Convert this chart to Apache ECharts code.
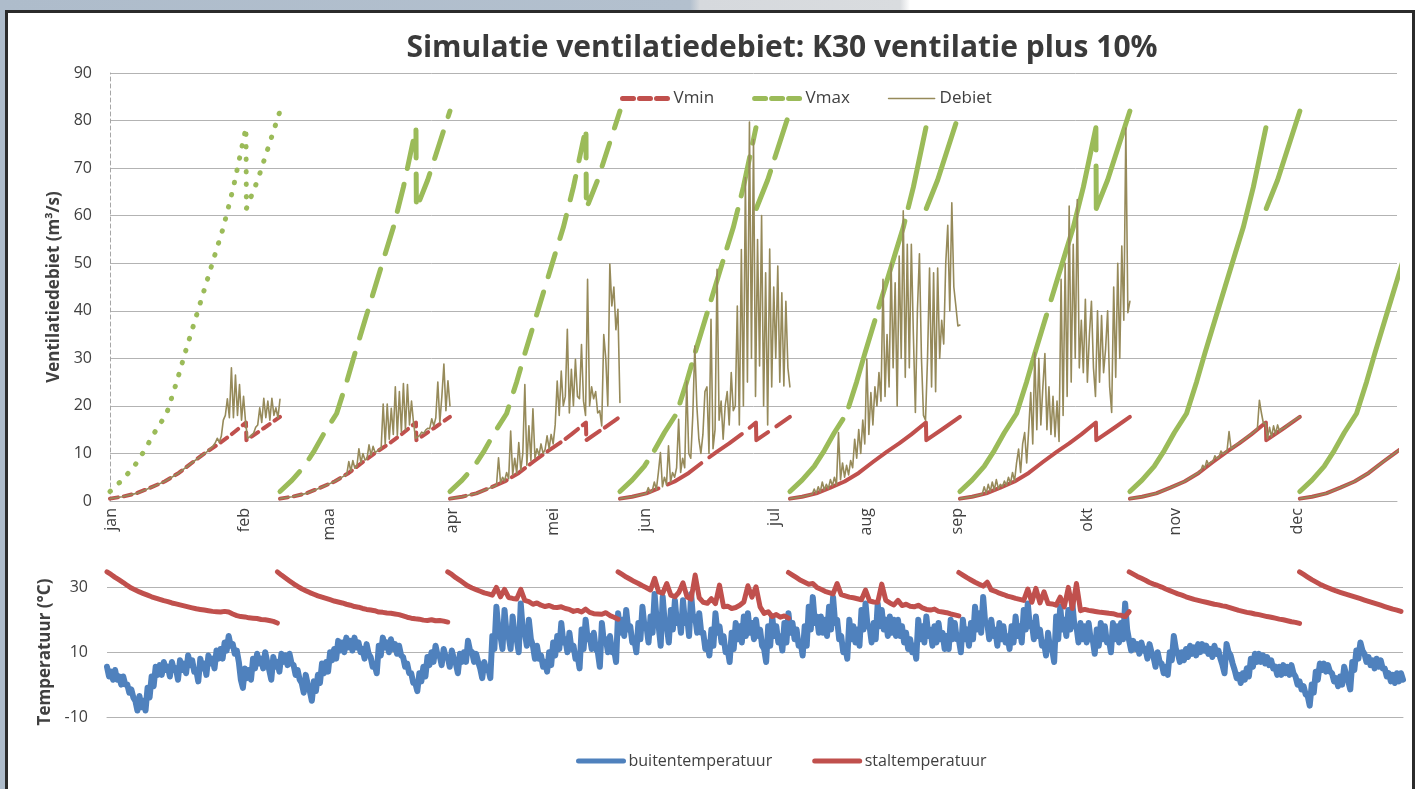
<!DOCTYPE html>
<html><head><meta charset="utf-8">
<script src="https://cdn.jsdelivr.net/npm/echarts@6/dist/echarts.min.js"></script>
<style>
html,body{margin:0;padding:0;width:1422px;height:789px;overflow:hidden;}
body{background:linear-gradient(90deg,#aebccb 0,#b3c0ce 690px,#d6d9dd 700px,#d9dcdf 900px,#ffffff 910px);}
#frame{position:absolute;left:5px;top:10px;width:1410px;height:800px;border:3px solid #2b2b2b;background:#fff;box-sizing:border-box;}
#chart{position:absolute;left:0;top:0;width:1422px;height:789px;}
</style></head><body>
<div id="frame"></div><div id="chart"></div>
<script>
// ---------- data ----------
const monthNames = ['jan','feb','maa','apr','mei','jun','jul','aug','sep','okt','nov','dec'];
const monthDays  = [0.4, 33.1, 54.1, 84.6, 109.6, 132.3, 164.1, 186.9, 209.3, 241.4, 263.2, 293.3];
const cycleStarts = [0, 42, 84, 126, 168, 210, 252, 294];

const vminDays   = [0, 3, 6.5, 10, 13.5, 17, 20.5, 24, 27, 30, 33.6, 33.7, 38, 42];
const vminValues = [0.5, 0.9, 1.6, 2.8, 4.1, 5.9, 8.2, 10.4, 12.1, 14.0, 16.5, 12.8, 15.3, 17.7];

const vmaxDays   = [0, 3, 6, 8.5, 11, 14, 16.5, 18.5, 21, 23.5, 26, 28, 30.5, 33.6, 33.7, 36.5, 42];
const vmaxValues = [2, 4.4, 7.3, 10.6, 14.4, 18.4, 25.1, 31, 38, 45, 52, 57.5, 66, 78.5, 61.5, 67.5, 82];
// cycles in which the Vmax drop is drawn as a vertical stroke
const vmaxDropShown = [true, true, true, false, false, true, false, false];

// day (within cycle) where Debiet leaves Vmin; values follow every half day from there
const debietStart = [25.5, 16.5, 11.5, 6.5, 5.5, 5.5, 17, 42];
const debietC1 = [11.6, 12.2, 13.2, 12.4, 13.6, 17, 18, 21.5, 17.5, 28, 17.5, 26.5, 18, 24.5, 17, 22, 16.5, 13.2, 13.5, 13.9, 14.3, 15.5, 16, 19.6, 16.5, 21.6, 17.5, 21, 17, 21.6, 18, 19.6, 17.5, 21.4];
const debietC2 = [5.6, 8.3, 6.3, 8.5, 6.9, 7.3, 11, 8.0, 10, 8.6, 8.9, 11.8, 9.6, 11.5, 10.2, 10.5, 10.8, 11.1, 20.4, 12, 20.4, 13, 19.5, 14, 24, 13.8, 23, 14.5, 24.7, 15, 24.5, 16, 21, 16.4, 13.2, 13.5, 13.8, 14.5, 14.2, 14.9, 15.3, 15.2, 17.3, 15.8, 17.5, 25, 16.5, 22, 28.8, 19, 25.3, 20];
const debietC3 = [3.3, 9.1, 3.8, 5, 4.2, 6, 4.7, 14.7, 5.5, 9, 5.8, 12.3, 6.5, 10, 24.5, 7.5, 15.8, 8.5, 19.4, 9, 11, 9.6, 12, 10, 10.8, 13.7, 11, 14, 12, 16, 25.2, 18, 27.3, 20, 22, 36.1, 18.5, 27.7, 20, 29.8, 22, 21.5, 32.9, 21, 18, 46.6, 20, 24, 21.5, 23, 18.5, 19, 15.8, 35, 30, 20, 49.8, 41, 45, 36, 40.3, 20.7];
const debietC4 = [1.6, 2.8, 1.8, 2.2, 4, 2.4, 6, 10.2, 3, 5, 3.5, 11.6, 4, 6, 5, 7, 17.2, 6, 9, 7, 25.2, 10, 9, 18, 32.6, 20, 13, 10, 14, 23, 24, 10, 38.2, 11, 15, 48.7, 17, 21, 13, 20, 23, 16, 27, 19, 20, 41, 16, 52.9, 20, 68, 25, 79.7, 30, 76, 22, 55, 28.4, 60, 20, 48, 16, 53, 24, 45, 30, 49.4, 25, 43.8, 24.2, 42, 28, 24];
const debietC5 = [1.4, 2.5, 1.6, 3, 1.9, 4, 2.3, 3.5, 2.6, 4.5, 3.2, 5, 3.4, 14.4, 4.5, 8, 5, 7.5, 5.5, 8.5, 7, 13, 9, 15, 10, 17, 12, 29.8, 14, 22.8, 16, 24, 20, 27, 21, 46.6, 22, 35, 24, 50, 28, 45.9, 20, 51.5, 30, 61, 26, 54, 28, 54, 35, 18.6, 40, 52, 30, 18, 17, 30, 49, 24, 48, 23, 49, 30, 38, 33, 50, 58, 40, 62.7, 45, 41, 36.8, 37];
const debietC6 = [1.4, 3, 1.6, 3.5, 2, 4, 2.3, 4.5, 2.6, 3.5, 3, 4.2, 3.3, 5, 3.7, 6, 4.2, 8, 10.9, 6, 12, 14.4, 8, 15, 22.8, 12, 31.2, 15, 30, 16, 24, 31, 15, 24, 14, 22, 13.5, 21, 12.5, 46.6, 18, 50, 22, 62, 25, 54, 30, 63.4, 28, 38, 27, 42.4, 25, 35, 42, 28, 22, 40, 25, 39, 27, 32, 40, 24, 18.6, 45, 26, 50, 30, 53.6, 38, 78.4, 39.6, 42];
const debietC7 = [6, 6.3, 7.5, 6.9, 8.5, 7.6, 8.2, 8.3, 9.5, 8.9, 9.2, 10.5, 9.9, 10.2, 10.5, 14.6, 11, 11.3, 11.6, 12, 12.2, 12.5, 12.8, 13.1, 13.5, 13.8, 14.1, 14.4, 14.8, 15.2, 21.2, 18.5, 16.3, 16.4, 13.1, 15.5, 13.5, 15.8, 14.1, 16, 14.6, 15.2, 15.3, 15.6, 16, 16.3, 16.6, 16.9, 17.2, 17.5, 17.7];
const debietC8 = [];

// outside temperature, day maximum and night minimum for each day (half-day steps)
const buitenTemp = [
5.5,2.5, 4,1.5, 4.5,1.5, 2.5,0, 2.5,0, 0,-2.5, -1.5,-4, -5,-8, -3.5,-7, -5,-8,
-1,-4, 2.5,-0.5, 5.5,3, 6,3, 7,4.5, 5.5,2.5, 7,4.5, 5,1.5, 7.5,4.5, 6.5,3.5,
9,6, 7.5,4, 4.5,1, 8,5, 6.5,3, 9,6.5, 8,5, 10.5,8, 11,8, 13,10.5,
15,12, 12.5,9.5, 10.5,7, 1.5,-1, 5,2, 4.5,1.5, 8,5, 9.5,6.5, 8,5, 10,7,
4.5,1.5, 8.5,5.5, 7,4, 9.5,7, 9,6, 9.5,6.5, 6,3, 4.5,1.5, 0.5,-2.5, 3,0,
-2,-5, 1,-2, 3,0.5, 6.5,3.5, 7,4, 10,7.5, 11,8, 13.5,10.5, 13,10, 14.5,11.5,
13.5,10.5, 14.5,11.5, 13,10, 11,8, 12.5,9.5, 8.5,5.5, 6,3.5, 12,9, 14.5,11.5, 13,10,
14,11, 12.5,9.5, 12,9, 8.5,5.5, 6.5,3.5, 3.5,0.5, 0.5,-2, 3.5,1, 5.5,2.5, 8.5,6,
10,7, 12,9, 9,6, 11,8.5, 8.5,5.5, 10.5,8, 6.5,3.5, 9.5,7, 10,7, 13.5,10.5,
10,7, 9.5,7, 5,2, 7,4.5, 5,2, 15,11, 24,17, 15,11, 23,16, 15,11,
21,15, 14,10, 25,17, 16,12, 20,14, 12,8, 12,8, 9,5.5, 7,4, 10,6,
13,9, 15,11, 19,13, 14,10, 16,11, 12,8, 9,5, 17,11, 20,14, 15,11,
16,11, 10,5.5, 19,13, 14,10, 15,10, 11,7, 22,16, 20,15, 23,17, 18,13,
14,10, 19,14, 24,18, 18,13, 21,16, 28,20, 18,12, 27,19, 18,13, 23,17,
26,19, 21,16, 26,19, 21,15, 28,20, 21,16, 22,16, 16,11, 13,9, 17,12,
22,16, 18,13, 15,10, 11,7, 16,11, 19,14, 18,13, 21,15, 22,16, 19,14,
20,15, 17,12, 11,7, 18,12, 21,15, 18,13, 15,10.5, 19,13, 22,16, 19,14,
17,12, 13,9, 18,12, 24,17, 27,19, 21,16, 21,16, 20,15, 24,17, 27,19,
20,14, 15,10, 12,8, 20,14, 18,13, 17,12, 23,17, 25,18, 18,13, 19,14,
25,18, 23,17, 20,15, 21,16, 20,15, 20,15, 18,13, 16,11, 14,10, 12,8,
20,14, 18,13, 21,15, 17,12, 18,13, 19,14, 16,11, 15,11, 20,14, 19,14,
14,10, 20,14, 17,12, 19,14, 24,17, 22,16, 27,19, 19,14, 20,15, 17,12,
19,14, 18,13, 15,11, 18,13, 21,15, 18,13, 23,17, 25,18, 19,14, 21,15,
17,12, 13,9, 16,11, 11,7, 21,14, 24,17, 20,15, 23,17, 25,18, 18,13,
19,14, 18,13, 19,14, 14,9.5, 17,12, 19,14, 18,13, 14,10, 19,14, 18,13,
19,14, 25,17, 13.5,10.5, 13.5,11, 12.5,9.5, 13,10.5, 11,8, 12.5,10, 8.5,5.5, 10,7,
6.5,3.5, 5.5,3, 10,7.5, 15,11, 9.5,7, 10,7.5, 11,8.5, 12,9.5, 11.5,9, 12.5,10,
12.5,10.5, 12,9.5, 11,8.5, 12,9.5, 10.5,8, 6,3.5, 12.5,10, 9,6.5, 4.5,2, 3,0.5,
3.5,1.5, 5,2.5, 8,5.5, 9.5,7, 9.5,7, 9,6.5, 8.5,6, 7.5,5, 5.5,3, 5.5,3,
6,3.5, 5.5,3, 6,3.5, 2.5,0, 1,-1.5, -0.5,-3, -3.5,-6.5, 0,-2.5, 4,1.5, 6.5,4.5,
6.5,4, 6,4, 3.5,1, 2,-0.5, 2.5,0, 5.5,3, 1,-1.5, 7,4.5, 10.5,8, 13,10.5,
9.5,7, 8.5,6, 7.5,5, 8,5.5, 7.5,5, 5,2.5, 3.5,1, 3,0.5, 3.5,1, 3.5,1.5
];

// barn temperature per cycle, one value per day
const stalC1 = [34.8, 34.0, 33.1, 32.3, 31.5, 30.6, 29.8, 29.2, 28.6, 28.1, 27.6, 27.1, 26.7, 26.3, 25.9, 25.6, 25.2, 24.9, 24.6, 24.3, 24.0, 23.7, 23.4, 23.2, 23.0, 22.8, 22.6, 22.5, 22.4, 22.6, 22.4, 21.8, 21.3, 21.0, 20.9, 20.6, 20.5, 20.4, 20.1, 20.0, 19.8, 19.5, 19.0];
const stalC2 = [34.8, 33.8, 32.9, 32.0, 31.1, 30.3, 29.6, 29.0, 28.4, 27.9, 27.4, 27.0, 26.6, 26.2, 25.8, 25.5, 25.2, 24.8, 24.5, 24.1, 23.9, 23.5, 23.2, 23.0, 22.8, 22.4, 22.3, 22.1, 22.0, 21.8, 21.6, 21.2, 20.8, 20.5, 20.3, 20.2, 19.9, 19.8, 20.0, 19.7, 19.8, 19.6, 19.3];
const stalC3 = [34.8, 34.0, 33.0, 32.2, 31.3, 30.4, 29.8, 29.3, 28.8, 28.3, 28.0, 27.6, 30.0, 27.1, 29.4, 26.9, 26.6, 26.4, 29.4, 26.0, 25.6, 24.8, 25.2, 24.5, 24.1, 24.4, 23.9, 23.8, 24.0, 23.5, 23.2, 22.6, 22.9, 22.4, 23.3, 22.3, 21.9, 21.8, 21.7, 22.2, 21.3, 20.8, 20.2];
const stalC4 = [34.8, 34.0, 33.2, 32.5, 31.8, 31.2, 30.5, 29.9, 29.2, 32.8, 28.6, 28.2, 31.2, 27.6, 27.1, 28.5, 31.4, 27.0, 26.4, 33.8, 26.8, 25.4, 25.1, 26.5, 25.0, 30.7, 24.0, 24.2, 23.5, 23.8, 24.5, 25.5, 30.5, 27.0, 30.2, 24.0, 22.0, 22.5, 21.0, 21.6, 20.8, 21.2, 20.5];
const stalC5 = [34.6, 33.8, 33.0, 32.2, 31.6, 31.0, 31.2, 30.0, 29.4, 28.8, 28.4, 28.0, 31.2, 27.8, 27.4, 27.0, 26.8, 26.5, 26.2, 29.2, 25.8, 25.5, 25.4, 31.0, 26.0, 25.2, 24.6, 26.0, 24.4, 24.8, 24.2, 24.0, 24.5, 23.7, 23.2, 23.0, 23.3, 22.6, 22.4, 22.2, 21.8, 21.5, 21.2];
const stalC6 = [34.6, 33.8, 33.0, 32.3, 31.6, 31.0, 30.4, 31.6, 29.2, 28.8, 28.2, 27.8, 27.3, 27.0, 26.6, 26.3, 26.0, 29.5, 25.4, 29.7, 25.2, 28.6, 25.0, 24.9, 24.5, 27.0, 24.0, 30.0, 23.5, 31.2, 22.8, 23.2, 22.9, 22.7, 22.5, 22.3, 22.2, 22.0, 21.9, 21.5, 21.4, 21.0, 22.5];
const stalC7 = [34.8, 34.1, 33.4, 32.8, 32.2, 31.5, 31.0, 30.6, 30.1, 29.5, 29.0, 28.5, 28.0, 27.6, 27.1, 26.7, 26.3, 26.0, 25.7, 25.4, 25.1, 24.8, 24.6, 24.3, 24.1, 23.7, 23.3, 22.9, 22.6, 22.3, 22.1, 21.8, 21.6, 21.3, 21.0, 20.8, 20.5, 20.2, 20.0, 19.7, 19.4, 19.2, 18.9];
const stalC8 = [34.8, 34.0, 33.2, 32.4, 31.7, 31.0, 30.4, 29.9, 29.4, 28.9, 28.5, 28.1, 27.7, 27.3, 26.9, 26.5, 26.1, 25.7, 25.3, 24.9, 24.5, 24.1, 23.7, 23.3, 23.0, 22.6];

// ---------- styling ----------
const FONT = "'Open Sans','Noto Sans',sans-serif";
const RED = '#C0504D', GREEN = '#9BBB59', OLIVE = '#968a5a', BLUE = '#4F81BD', GRID = '#b3b3b3', TXT = '#404040';
const vminDash = [[8,6],[8,6],[16,6],[40,10],'solid','solid','solid','solid'];
const vmaxDash = [[0.5,12],[28,16],[24,16],[40,14],[90,14],[200,16],'solid','solid'];

const debietArrays = [debietC1, debietC2, debietC3, debietC4, debietC5, debietC6, debietC7, debietC8];
const stalArrays = [stalC1, stalC2, stalC3, stalC4, stalC5, stalC6, stalC7, stalC8];

const series = [];
function lineSeries(name, xi, data, color, width, type) {
  return {
    name: name, type: 'line', xAxisIndex: xi, yAxisIndex: xi, symbol: 'none', showSymbol: false,
    data: data, lineStyle: { color: color, width: width, type: type || 'solid', cap: 'round', join: 'round' },
    itemStyle: { color: color }
  };
}
cycleStarts.forEach((s, i) => {
  series.push(lineSeries('Vmin', 0, vminDays.map((d, j) => [s + d, vminValues[j]]), RED, 4, vminDash[i]));
});
cycleStarts.forEach((s, i) => {
  const pts = vmaxDays.map((d, j) => [s + d, vmaxValues[j]]);
  if (vmaxDropShown[i]) {
    series.push(lineSeries('Vmax', 0, pts, GREEN, 5, vmaxDash[i]));
  } else {
    series.push(lineSeries('Vmax', 0, pts.filter((p, j) => vmaxDays[j] <= 33.6), GREEN, 5, vmaxDash[i]));
    series.push(lineSeries('Vmax', 0, pts.filter((p, j) => vmaxDays[j] > 33.6), GREEN, 5, vmaxDash[i]));
  }
});
cycleStarts.forEach((s, i) => {
  const st = debietStart[i];
  const pts = [];
  vminDays.forEach((d, j) => { if (d < st) pts.push([s + d, vminValues[j]]); });
  debietArrays[i].forEach((v, k) => pts.push([s + st + k * 0.5, v]));
  series.push(lineSeries('Debiet', 0, pts, OLIVE, 1.6));
});
series.push(lineSeries('buitentemperatuur', 1, buitenTemp.map((v, k) => [k * 0.5, v]), BLUE, 6));
cycleStarts.forEach((s, i) => {
  series.push(lineSeries('staltemperatuur', 1, stalArrays[i].map((v, k) => [s + k, v]), RED, 5));
});

function monthName(v) {
  let best = 0;
  monthDays.forEach((d, i) => { if (Math.abs(d - v) < Math.abs(monthDays[best] - v)) best = i; });
  return monthNames[best];
}

const hiddenMarker = { opacity: 0, color: 'rgba(0,0,0,0)', borderWidth: 0 };
const option = {
  animation: false,
  textStyle: { fontFamily: FONT },
  graphic: [
    { type: 'text', x: 782, y: 48, style: { text: 'Simulatie ventilatiedebiet: K30 ventilatie plus 10%', font: "bold 30px 'Open Sans','Noto Sans',sans-serif", fill: '#3a3a3a', textAlign: 'center', textVerticalAlign: 'middle' } },
    { type: 'text', x: 45, y: 652, rotation: Math.PI / 2, style: { text: 'Temperatuur (°C)', font: "bold 17px 'Open Sans','Noto Sans',sans-serif", fill: TXT, textAlign: 'center', textVerticalAlign: 'middle' } }
  ],
  legend: [
    { left: 620, top: 90, padding: 0, itemWidth: 46, itemHeight: 14, itemGap: 38, textStyle: { fontSize: 17, color: TXT, fontFamily: FONT },
      itemStyle: hiddenMarker,
      data: [
        { name: 'Vmin', itemStyle: hiddenMarker, lineStyle: { type: [11, 6], width: 5, cap: 'round', color: RED } },
        { name: 'Vmax', itemStyle: hiddenMarker, lineStyle: { type: [11, 6], width: 5, cap: 'round', color: GREEN } },
        { name: 'Debiet', itemStyle: hiddenMarker, lineStyle: { type: 'solid', width: 1.6, color: OLIVE } }
      ] },
    { left: 576, top: 753, padding: 0, itemWidth: 45, itemHeight: 14, itemGap: 40, textStyle: { fontSize: 16, color: TXT, fontFamily: FONT },
      itemStyle: hiddenMarker,
      data: [
        { name: 'buitentemperatuur', itemStyle: hiddenMarker, lineStyle: { width: 5, color: BLUE } },
        { name: 'staltemperatuur', itemStyle: hiddenMarker, lineStyle: { width: 5, color: RED } }
      ] }
  ],
  grid: [
    { left: 110, top: 73, width: 1287, height: 428 },
    { left: 107, top: 555, width: 1296, height: 162 }
  ],
  xAxis: [
    { gridIndex: 0, type: 'value', min: 0, max: 318,
      axisLine: { show: true, onZero: false, lineStyle: { color: GRID } }, axisTick: { show: false }, splitLine: { show: false },
      axisLabel: { customValues: monthDays, rotate: 90, margin: 7, fontSize: 16, color: TXT, fontFamily: FONT, formatter: v => monthName(v) } },
    { gridIndex: 1, type: 'value', min: 0, max: 319.5,
      axisLine: { show: true, onZero: false, lineStyle: { color: GRID } }, axisTick: { show: false }, axisLabel: { show: false }, splitLine: { show: false } }
  ],
  yAxis: [
    { gridIndex: 0, type: 'value', min: 0, max: 90, interval: 10,
      name: 'Ventilatiedebiet (m³/s)', nameLocation: 'middle', nameGap: 47, nameRotate: 90,
      nameTextStyle: { fontSize: 17, fontWeight: 'bold', color: TXT, fontFamily: FONT },
      axisLine: { show: true, lineStyle: { color: '#a6a6a6', type: [4, 3] } }, axisTick: { show: false },
      axisLabel: { fontSize: 16, color: TXT, margin: 18, fontFamily: FONT },
      splitLine: { lineStyle: { color: GRID } } },
    { gridIndex: 1, type: 'value', min: -10, max: 40, interval: 20,
      axisLine: { show: false }, axisTick: { show: false },
      axisLabel: { fontSize: 16, color: TXT, margin: 19, fontFamily: FONT, showMaxLabel: false, formatter: v => (v > 35 ? '' : String(v)) },
      splitLine: { showMaxLine: false, lineStyle: { color: GRID } } }
  ],
  series: series
};

const chart = echarts.init(document.getElementById('chart'), null, { renderer: 'canvas' });
chart.setOption(option);
</script>
</body></html>
